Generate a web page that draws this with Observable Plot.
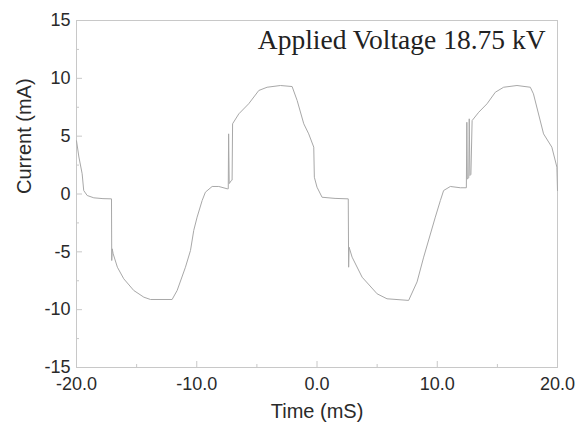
<!DOCTYPE html>
<html><head><meta charset="utf-8">
<script src="https://cdn.jsdelivr.net/npm/d3@7"></script>
<script src="https://cdn.jsdelivr.net/npm/@observablehq/plot@0.6"></script>
<style>body{margin:0;background:#fff}</style>
</head><body><div id="chart"></div>
<script>
const time = [-20, -19.8, -19.53, -19.4, -19.11, -18.56, -17.8, -17.09, -17.07, -17.03, -16.95, -16.6, -16.07, -15.24, -14.4, -13.85, -12.05, -11.63, -10.94, -10.52, -10.25, -9.97, -9.55, -9.28, -8.72, -8.17, -7.47, -7.38, -7.35, -7.3, -7.12, -7.06, -7.02, -6.5, -5.68, -4.84, -4.15, -3.04, -2.07, -1.65, -1.1, -0.69, -0.27, -0.22, 0.0, 0.42, 1.5, 2.6, 2.63, 2.67, 2.92, 3.75, 5.0, 5.82, 7.62, 8.32, 8.87, 9.84, 10.26, 10.53, 11.09, 11.92, 12.42, 12.46, 12.5, 12.62, 12.66, 12.72, 12.8, 12.9, 13.45, 14.14, 14.83, 15.52, 16.63, 17.74, 18.0, 18.84, 19.53, 19.95, 20.0];
const current = [4.6, 3.2, 1.75, 0.3, -0.13, -0.33, -0.4, -0.42, -5.75, -4.74, -5.17, -6.33, -7.33, -8.34, -8.92, -9.12, -9.12, -8.34, -6.33, -4.88, -3.15, -2.0, -0.56, 0.16, 0.65, 0.65, 0.45, 0.45, 5.2, 0.9, 1.17, 1.2, 6.07, 6.93, 7.8, 8.95, 9.23, 9.38, 9.29, 8.08, 6.07, 5.2, 4.05, 1.45, 0.59, -0.28, -0.38, -0.42, -6.33, -4.6, -5.46, -7.19, -8.63, -9.06, -9.2, -7.6, -5.46, -2.0, -0.56, 0.3, 0.65, 0.54, 0.54, 6.2, 1.3, 1.4, 6.5, 1.6, 1.7, 6.35, 7.07, 7.8, 8.8, 9.23, 9.38, 9.23, 8.66, 5.2, 4.05, 2.32, 0.3];
const xTicks = [-20, -10, 0, 10, 20];
const xMinor = [-15, -5, 5, 15];
const yTicks = [-15, -10, -5, 0, 5, 10, 15];
const yMinor = [-12.5, -7.5, -2.5, 2.5, 7.5, 12.5];
const titleText = "Applied Voltage 18.75 kV";
const xLabel = "Time (mS)";
const yLabel = "Current (mA)";

const data = time.map((t, i) => ({t, c: current[i]}));
const W = 577, H = 433, mL = 76, mR = 20, mT = 20, mB = 66;
const pw = W - mL - mR, ph = H - mT - mB;
const axisColor = "#c8c8c8";
const sans = "Liberation Sans, Arial, sans-serif";

const chart = Plot.plot({
  width: W, height: H,
  marginLeft: mL, marginRight: mR, marginTop: mT, marginBottom: mB,
  style: {background: "#fff", fontFamily: sans},
  x: {domain: [-20, 20]},
  y: {domain: [-15, 15]},
  marks: [
    Plot.frame({stroke: axisColor}),
    Plot.tickX(xTicks, {x: d => d, stroke: axisColor, insetTop: ph - 6}),
    Plot.tickX(xMinor, {x: d => d, stroke: axisColor, insetTop: ph - 3}),
    Plot.tickY(yTicks, {y: d => d, stroke: axisColor, insetRight: pw - 6}),
    Plot.tickY(yMinor, {y: d => d, stroke: axisColor, insetRight: pw - 3}),
    Plot.axisX({ticks: xTicks, tickFormat: d => d.toFixed(1), tickSize: 0, tickPadding: 10, fontSize: 18, fill: "#2a2a2a", label: null}),
    Plot.axisY({ticks: yTicks, tickFormat: d => String(d), tickSize: 0, tickPadding: 6, fontSize: 18, fill: "#2a2a2a", label: null}),
    Plot.line(data, {x: "t", y: "c", stroke: "#a8a8a8", strokeWidth: 1}),
    Plot.text([xLabel], {frameAnchor: "bottom", dy: 50, fontSize: 20, fill: "#2a2a2a", fontFamily: sans}),
    Plot.text([yLabel], {frameAnchor: "left", dx: -52, rotate: -90, fontSize: 20, fill: "#2a2a2a", fontFamily: sans}),
    Plot.text([titleText], {frameAnchor: "top-right", textAnchor: "end", lineAnchor: "top", dx: -12, dy: 8.5, fontSize: 27.5, fill: "#222", fontFamily: "Liberation Serif, Times New Roman, serif"})
  ]
});
document.getElementById("chart").appendChild(chart);
</script>
</body></html>
